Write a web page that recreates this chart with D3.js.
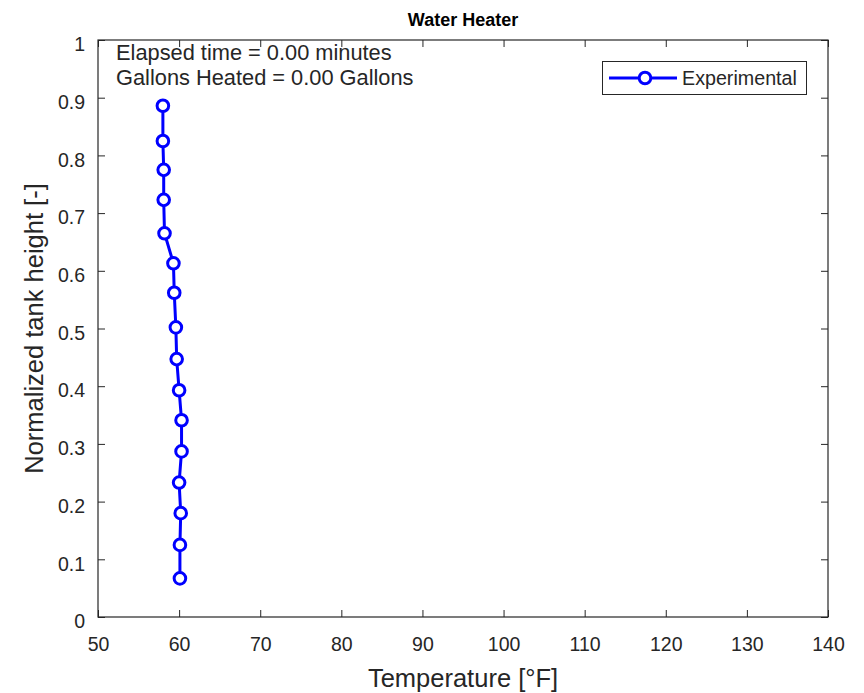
<!DOCTYPE html>
<html>
<head>
<meta charset="utf-8">
<script src="https://cdn.jsdelivr.net/npm/d3@7"></script>
<style>
  body { margin: 0; background: #fff; }
  svg { display: block; }
  text { font-family: "Liberation Sans", Arial, sans-serif; fill: #262626; }
</style>
</head>
<body>
<svg id="chart" width="864" height="693"></svg>
<script>
// measured profile, bottom to top
var tankHeight = [0.067, 0.125, 0.180, 0.233, 0.287, 0.341, 0.393, 0.447, 0.502, 0.562, 0.613, 0.665, 0.723, 0.775, 0.825, 0.886];
var temperature = [60.1, 60.1, 60.2, 60.0, 60.3, 60.3, 60.0, 59.7, 59.6, 59.4, 59.3, 58.2, 58.1, 58.1, 58.0, 58.0];
var xTicks = [50, 60, 70, 80, 90, 100, 110, 120, 130, 140];
var yTicks = [0, 0.1, 0.2, 0.3, 0.4, 0.5, 0.6, 0.7, 0.8, 0.9, 1];
var infoLines = ['Elapsed time = 0.00 minutes', 'Gallons Heated = 0.00 Gallons'];
var seriesName = 'Experimental';

var svg = d3.select('#chart');
var plotLeft = 98, plotRight = 828, plotTop = 40, plotBottom = 617;
var tickLen = 7;
var blue = '#0000ff';

var x = d3.scaleLinear().domain([50, 140]).range([plotLeft, plotRight]);
var y = d3.scaleLinear().domain([0, 1]).range([plotBottom, plotTop]);

function styleAxis(g) {
    g.select('.domain').remove();
    g.selectAll('line').attr('stroke', '#262626');
    g.selectAll('text')
        .style('font-size', '19.5px')
        .attr('fill', '#262626');
}

svg.append('g')
    .attr('transform', 'translate(0,' + plotBottom + ')')
    .call(d3.axisBottom(x).tickValues(xTicks).tickSize(-tickLen).tickPadding(20).tickFormat(d3.format('d')))
    .call(styleAxis);

svg.append('g')
    .attr('transform', 'translate(0,' + plotTop + ')')
    .call(d3.axisTop(x).tickValues(xTicks).tickSize(-tickLen).tickFormat(''))
    .call(styleAxis);

svg.append('g')
    .attr('transform', 'translate(' + plotLeft + ',0)')
    .call(d3.axisLeft(y).tickValues(yTicks).tickSize(-tickLen).tickPadding(13).tickFormat(function (d) { return String(+d.toFixed(1)); }))
    .call(styleAxis)
    .selectAll('text').attr('dy', '0.55em');

svg.append('g')
    .attr('transform', 'translate(' + plotRight + ',0)')
    .call(d3.axisRight(y).tickValues(yTicks).tickSize(-tickLen).tickFormat(''))
    .call(styleAxis);

// box
svg.append('rect')
    .attr('x', plotLeft).attr('y', plotTop)
    .attr('width', plotRight - plotLeft).attr('height', plotBottom - plotTop)
    .attr('fill', 'none')
    .attr('stroke', '#262626')
    .attr('stroke-width', 1.2);

// series
var points = tankHeight.map(function (h, i) { return { h: h, t: temperature[i] }; });

svg.append('path')
    .datum(points)
    .attr('fill', 'none')
    .attr('stroke', blue)
    .attr('stroke-width', 3)
    .attr('d', d3.line().x(function (d) { return x(d.t); }).y(function (d) { return y(d.h); }));

svg.selectAll('circle.pt')
    .data(points)
    .enter().append('circle')
    .attr('class', 'pt')
    .attr('cx', function (d) { return x(d.t); })
    .attr('cy', function (d) { return y(d.h); })
    .attr('r', 5.8)
    .attr('fill', '#fff')
    .attr('stroke', blue)
    .attr('stroke-width', 3);

// annotation text
svg.selectAll('text.info')
    .data(infoLines)
    .enter().append('text')
    .attr('class', 'info')
    .attr('x', 116)
    .attr('y', function (d, i) { return 60 + i * 25; })
    .style('font-size', '21.8px')
    .text(function (d) { return d; });

// legend
var lg = svg.append('g');
lg.append('rect')
    .attr('x', 602.5).attr('y', 61.5)
    .attr('width', 204).attr('height', 33)
    .attr('fill', '#fff')
    .attr('stroke', '#262626')
    .attr('stroke-width', 1);
lg.append('line')
    .attr('x1', 609).attr('x2', 677)
    .attr('y1', 78).attr('y2', 78)
    .attr('stroke', blue).attr('stroke-width', 3);
lg.append('circle')
    .attr('cx', 645).attr('cy', 78).attr('r', 5.8)
    .attr('fill', '#fff').attr('stroke', blue).attr('stroke-width', 3);
lg.append('text')
    .attr('x', 682).attr('y', 85)
    .style('font-size', '19.7px')
    .text(seriesName);

// titles
svg.append('text')
    .attr('x', (plotLeft + plotRight) / 2).attr('y', 26)
    .attr('text-anchor', 'middle')
    .style('font-size', '18px').style('font-weight', 'bold')
    .style('fill', '#000')
    .text('Water Heater');

svg.append('text')
    .attr('x', (plotLeft + plotRight) / 2).attr('y', 687)
    .attr('text-anchor', 'middle')
    .style('font-size', '25.5px')
    .text('Temperature [°F]');

svg.append('text')
    .attr('transform', 'translate(43,' + (plotTop + plotBottom) / 2 + ') rotate(-90)')
    .attr('text-anchor', 'middle')
    .style('font-size', '25.5px')
    .text('Normalized tank height [-]');
</script>
</body>
</html>
